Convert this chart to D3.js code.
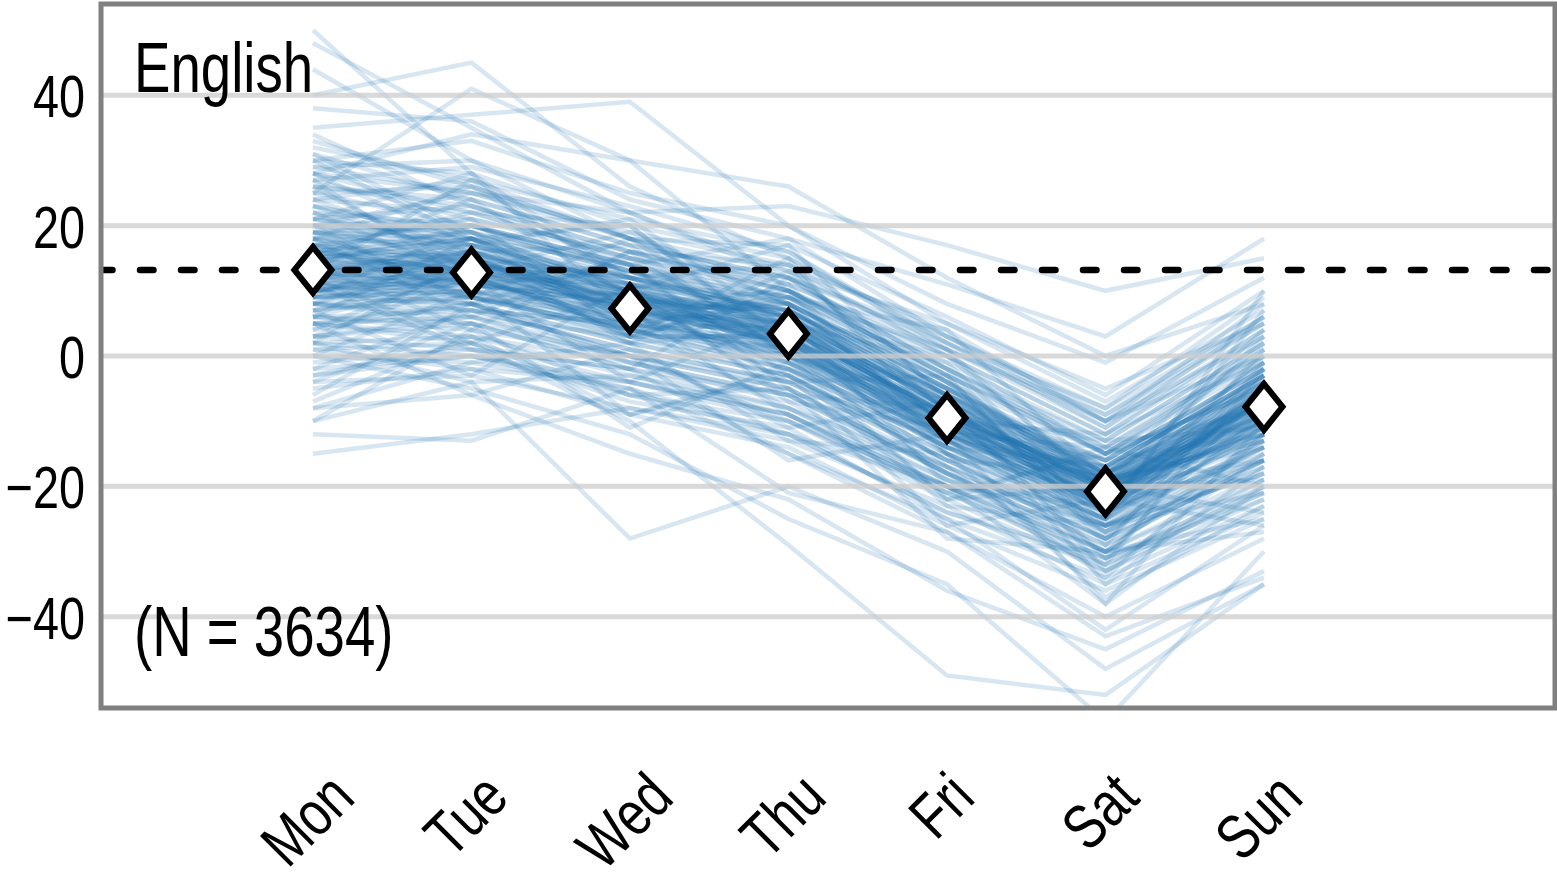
<!DOCTYPE html>
<html>
<head>
<meta charset="utf-8">
<script src="https://cdn.jsdelivr.net/npm/d3@7"></script>
<style>
  body { margin: 0; background: #fff; }
  svg { display: block; }
</style>
</head>
<body>
<svg id="chart" width="1557" height="882"></svg>
<script>
// day labels and the mean score per day (diamonds)
const days = ["Mon", "Tue", "Wed", "Thu", "Fri", "Sat", "Sun"];
const meanScores = [13.2, 12.8, 7.3, 3.4, -9.5, -20.8, -7.8];
const baselineScore = 13.2;
const yTicks = [-40, -20, 0, 20, 40];
const panelLabel = "English";
const sampleSize = 3634;

// individual weekly profiles (Mon..Sun)
const userLines = [
  [14, 15, 8, 4, -9, -20, -6], [12, 10, 6, 1, -12, -23, -10], [16, 18, 10, 6, -6, -18, -4],
  [10, 12, 4, 0, -13, -24, -12], [18, 14, 9, 7, -8, -19, -9], [13, 16, 11, 2, -11, -22, -5],
  [8, 9, 5, -1, -14, -25, -11], [20, 17, 12, 8, -5, -17, -3], [11, 13, 3, 3, -10, -21, -7],
  [15, 11, 7, 5, -7, -19, -8], [17, 19, 13, 4, -9, -16, -2], [9, 8, 2, -3, -15, -26, -13],
  [14, 12, 9, 1, -11, -20, -9], [12, 15, 6, 6, -8, -22, -6], [22, 20, 14, 9, -4, -15, -1],
  [6, 7, 1, -4, -16, -27, -14], [16, 13, 10, 3, -10, -18, -7], [10, 14, 8, 2, -12, -21, -10],
  [19, 16, 8, 7, -7, -20, -4], [13, 10, 5, 0, -13, -23, -11], [24, 22, 15, 10, -3, -14, 0],
  [7, 10, 3, -2, -14, -24, -12], [15, 17, 11, 5, -6, -19, -6], [11, 9, 4, 1, -11, -22, -9],
  [21, 18, 12, 6, -6, -17, -3], [5, 6, 0, -5, -17, -28, -15], [17, 15, 7, 4, -9, -21, -5],
  [9, 11, 6, -1, -12, -23, -13], [26, 24, 17, 12, -2, -13, 2], [3, 5, -2, -6, -18, -29, -16],
  [14, 14, 9, 3, -8, -20, -8], [12, 13, 7, 2, -10, -22, -7], [18, 20, 12, 7, -5, -16, -2],
  [8, 6, 3, -3, -15, -25, -14], [23, 19, 13, 8, -4, -18, -1], [4, 8, -1, -7, -19, -26, -18],
  [16, 12, 8, 5, -9, -19, -10], [11, 16, 10, 0, -11, -24, -6], [20, 21, 15, 9, -3, -15, 1],
  [6, 4, 0, -4, -16, -28, -17], [13, 17, 6, 4, -7, -21, -4], [10, 7, 5, 1, -13, -20, -12],
  [27, 21, 16, 11, 0, -12, 3], [2, 3, -3, -8, -20, -30, -19], [15, 14, 10, 2, -10, -17, -8],
  [19, 18, 9, 6, -8, -22, -3], [9, 12, 4, -2, -14, -22, -11], [25, 26, 18, 13, 1, -11, 4],
  [1, 2, -4, -9, -21, -31, -20], [17, 11, 8, 7, -6, -18, -6],
  [30, 28, 20, 15, 3, -9, 6], [-2, 0, -6, -10, -22, -33, -22], [28, 25, 19, 14, 4, -10, 8],
  [0, -1, -5, -12, -24, -32, -21], [32, 27, 21, 16, 2, -8, 9], [-4, -3, -8, -13, -23, -35, -24],
  [29, 30, 22, 13, 5, -7, 7], [-1, 1, -7, -11, -25, -34, -23], [33, 26, 18, 17, 6, -6, 10],
  [-5, -2, -9, -14, -26, -36, -25], [27, 29, 23, 16, 1, -9, 5], [2, -4, -3, -9, -20, -33, -20],
  [31, 24, 17, 12, 2, -11, 6], [-3, 2, -6, -12, -24, -31, -22], [26, 23, 16, 14, 0, -12, 4],
  [3, 1, -2, -8, -19, -30, -18], [24, 27, 18, 10, -1, -13, 2], [5, 3, -1, -6, -18, -29, -16],
  [28, 22, 15, 12, 3, -10, 3], [1, -2, -4, -10, -21, -32, -19],
  [12, 18, 9, 5, -9, -20, -2], [14, 9, 6, 3, -12, -19, -14], [10, 15, 12, 1, -8, -23, -5],
  [18, 12, 5, 8, -11, -18, -9], [8, 14, 7, 4, -10, -26, -3], [20, 14, 11, 0, -7, -21, -11],
  [13, 11, 13, 6, -13, -17, -7], [16, 19, 5, 2, -6, -24, -6], [11, 8, 10, 3, -9, -20, -16],
  [15, 16, 8, -2, -12, -22, 0], [7, 13, 9, 5, -15, -21, -9], [19, 15, 6, 9, -8, -25, -5],
  [12, 12, 11, 7, -5, -19, -13], [21, 17, 10, 1, -14, -23, -8], [9, 10, 2, 4, -7, -18, -10],
  [14, 20, 13, 6, -10, -27, -4], [17, 9, 4, -1, -11, -16, -12], [10, 11, 8, 8, -4, -20, -7],
  [22, 16, 7, 3, -13, -22, -2], [6, 12, 6, 0, -9, -24, -15],
  [50, 28, 12, 6, -8, -20, -10], [48, 35, 22, 12, -2, -15, -5], [40, 45, 26, 15, 2, -10, 0],
  [25, 41, 30, 10, 0, -15, -5], [35, 37, 39, 20, 5, -5, 5], [28, 34, 30, 26, 12, 0, 8],
  [20, 25, 22, 23, 17, 10, 15], [15, 18, 14, 18, 11, 3, 18], [-15, -12, -8, -12, -20, -30, -25],
  [-12, -13, -5, -15, -27, -40, -28], [-8, -6, -15, -22, -36, -45, -33], [-10, -4, -28, -20, -30, -48, -35],
  [5, 2, -10, -29, -49, -52, -35], [0, -5, -12, -25, -35, -56, -30], [2, 0, -5, -21, -27, -43, -34],
  [10, 8, 0, -10, -20, -38, -20], [8, 5, -2, -15, -25, -42, -26], [30, 33, 25, 20, 8, -1, 12],
  [44, 30, 18, 8, -5, -18, -8], [38, 36, 24, 18, 3, -8, 6],
  [13, 14, 10, 1, -10, -21, -8], [11, 12, 5, 4, -9, -19, -9], [15, 13, 7, 2, -11, -22, -6],
  [12, 16, 9, 6, -8, -20, -7], [16, 15, 8, 3, -12, -23, -10], [10, 13, 6, 0, -10, -18, -5],
  [14, 11, 4, 5, -7, -21, -11], [18, 17, 11, 4, -9, -19, -3], [9, 10, 7, 2, -13, -24, -8],
  [13, 15, 12, 7, -6, -20, -6], [20, 19, 10, 5, -10, -22, -7], [7, 9, 4, -2, -12, -20, -12],
  [15, 18, 7, 8, -5, -18, -4], [11, 11, 9, -1, -14, -25, -9], [17, 14, 12, 5, -8, -21, -5],
  [12, 9, 3, 3, -11, -19, -13], [23, 18, 11, 7, -6, -16, -2], [5, 8, 2, -3, -16, -26, -14],
  [14, 16, 10, 6, -7, -17, -3], [10, 12, 5, 1, -12, -22, -10], [19, 20, 14, 8, -4, -19, -1],
  [8, 7, 1, -4, -13, -27, -16], [16, 13, 9, 2, -9, -23, -6], [12, 14, 7, 5, -10, -20, -9],
  [25, 20, 13, 9, -2, -14, 1], [3, 6, -1, -6, -17, -28, -17], [21, 23, 16, 10, -3, -15, 0],
  [6, 5, 0, -5, -18, -26, -18], [29, 25, 18, 11, 1, -10, 5], [-3, 0, -4, -9, -20, -31, -21],
  [22, 12, 14, -5, -18, -30, -12], [4, 14, 3, 10, -3, -29, -1], [18, 6, 16, 0, -22, -14, -20],
  [-6, 8, 0, -16, -12, -38, -10], [30, 18, 20, 2, -15, -25, 10], [-7, 3, -9, -3, -26, -22, -26],
  [20, 8, 15, 2, -5, -24, -14], [6, 18, 4, 11, -14, -17, -3], [15, 24, 9, -4, -3, -28, -9],
  [26, 13, 19, 8, -12, -19, 2], [3, 12, -4, 6, -20, -23, -16], [12, 2, 10, -6, -8, -31, -5],
  [18, 26, 12, 14, -9, -13, -11], [-2, 7, 5, -8, -17, -34, -12], [23, 15, 3, 9, 1, -21, -7],
  [9, 20, 14, -3, -16, -18, 4], [31, 19, 10, 17, -7, -16, -4], [0, 10, -9, -2, -23, -26, -21],
  [14, 4, 16, 10, -15, -30, -13], [21, 28, 6, 5, -1, -24, 7], [7, -3, 11, -7, -11, -20, -19],
  [16, 22, 20, 1, -19, -28, -6], [-8, -1, 2, -13, -15, -37, -23], [28, 17, 21, 4, -10, -12, -1],
  [11, 1, -2, 12, -4, -27, -10], [24, 16, 2, 13, -6, -33, -15], [2, 15, 7, -9, -21, -15, -8],
  [19, 9, 18, 3, -17, -25, 1], [13, 27, 11, 9, 4, -19, -12], [-10, 4, -6, -5, -28, -30, -27],
  [34, 23, 14, 6, 0, -20, 3], [5, -6, 1, -11, -7, -35, -17], [17, 21, 3, 15, -12, -14, -8],
  [8, 16, 17, 0, -18, -32, -2], [27, 11, 8, 10, -2, -26, -16], [-4, 5, -11, -1, -22, -20, -24]
];

const svg = d3.select("#chart");
const plotLeft = 101, plotRight = 1555, plotTop = 4, plotBottom = 708;

const x = d3.scaleLinear().domain([-1.337, 7.836]).range([plotLeft, plotRight]);
const y = d3.scaleLinear().domain([-54, 54]).range([plotBottom, plotTop]);

// the reference face is a condensed grotesque; squeeze Liberation Sans to match
const font = "'Liberation Sans', Arial, sans-serif";
const squeeze = 0.78;

svg.append("defs").append("clipPath").attr("id", "plot-clip")
  .append("rect").attr("x", plotLeft).attr("y", plotTop)
  .attr("width", plotRight - plotLeft).attr("height", plotBottom - plotTop);

const plot = svg.append("g").attr("clip-path", "url(#plot-clip)");

const line = d3.line().x((d, i) => x(i)).y(d => y(d));

plot.append("g")
  .selectAll("path")
  .data(userLines)
  .join("path")
  .attr("d", line)
  .attr("fill", "none")
  .attr("stroke", "#1f77b4")
  .attr("stroke-opacity", 0.18)
  .attr("stroke-width", 4.5)
  .attr("stroke-linejoin", "miter");

// grid sits over the lines, slightly see-through
plot.append("g")
  .selectAll("line")
  .data(yTicks)
  .join("line")
  .attr("x1", plotLeft).attr("x2", plotRight)
  .attr("y1", d => y(d)).attr("y2", d => y(d))
  .attr("stroke", "#cccccc")
  .attr("stroke-opacity", 0.75)
  .attr("stroke-width", 5);

plot.append("line")
  .attr("x1", plotLeft - 2).attr("x2", plotRight)
  .attr("y1", y(baselineScore)).attr("y2", y(baselineScore))
  .attr("stroke", "#000")
  .attr("stroke-width", 6.5)
  .attr("stroke-linecap", "round")
  .attr("stroke-dasharray", "13.5,27.5");

const diamond = "M0,-23L18.5,0L0,23L-18.5,0Z";
plot.append("g")
  .selectAll("path")
  .data(meanScores)
  .join("path")
  .attr("transform", (d, i) => `translate(${x(i)},${y(d)})`)
  .attr("d", diamond)
  .attr("fill", "#fff")
  .attr("stroke", "#000")
  .attr("stroke-width", 6)
  .attr("stroke-linejoin", "miter");

// frame
svg.append("rect")
  .attr("x", plotLeft).attr("y", plotTop)
  .attr("width", plotRight - plotLeft).attr("height", plotBottom - plotTop)
  .attr("fill", "none")
  .attr("stroke", "#808080")
  .attr("stroke-width", 5);

// y axis
const yAxis = svg.append("g")
  .attr("transform", `translate(${plotLeft},0)`)
  .call(d3.axisLeft(y).tickValues(yTicks).tickSize(0)
    .tickFormat(d => d < 0 ? "\u2212" + Math.abs(d) : String(d)));
yAxis.select(".domain").remove();
yAxis.selectAll("text")
  .attr("x", 0).attr("dy", "0.36em")
  .attr("transform", `translate(-16,0) scale(${squeeze},1)`)
  .attr("text-anchor", "end")
  .attr("fill", "#000")
  .style("font-family", font)
  .style("font-size", "60px");

// x axis, labels turned 45 degrees, box top near y=768
const xFont = 63, xSqueeze = 0.8;
const xAxis = svg.append("g")
  .attr("transform", `translate(0,${plotBottom})`)
  .call(d3.axisBottom(x).tickValues(d3.range(days.length)).tickSize(0).tickFormat(i => days[i]));
xAxis.select(".domain").remove();
xAxis.selectAll("text")
  .attr("x", 0).attr("y", 0).attr("dy", "0.36em")
  .attr("text-anchor", "middle")
  .attr("fill", "#000")
  .style("font-family", font)
  .style("font-size", xFont + "px")
  .each(function () {
    const w = this.getComputedTextLength() * xSqueeze;
    const h = 0.72 * xFont;
    const cy = 60 + (w + h) / (2 * Math.SQRT2);
    d3.select(this).attr("transform", `translate(-7,${cy}) rotate(-45) scale(${xSqueeze},1)`);
  });

// panel annotations
svg.append("text")
  .attr("transform", `translate(134,92) scale(${squeeze},1)`)
  .style("font-family", font)
  .style("font-size", "70px")
  .text(panelLabel);

svg.append("text")
  .attr("transform", `translate(134,656) scale(${squeeze},1)`)
  .style("font-family", font)
  .style("font-size", "70px")
  .text(`(N = ${sampleSize})`);
</script>
</body>
</html>
